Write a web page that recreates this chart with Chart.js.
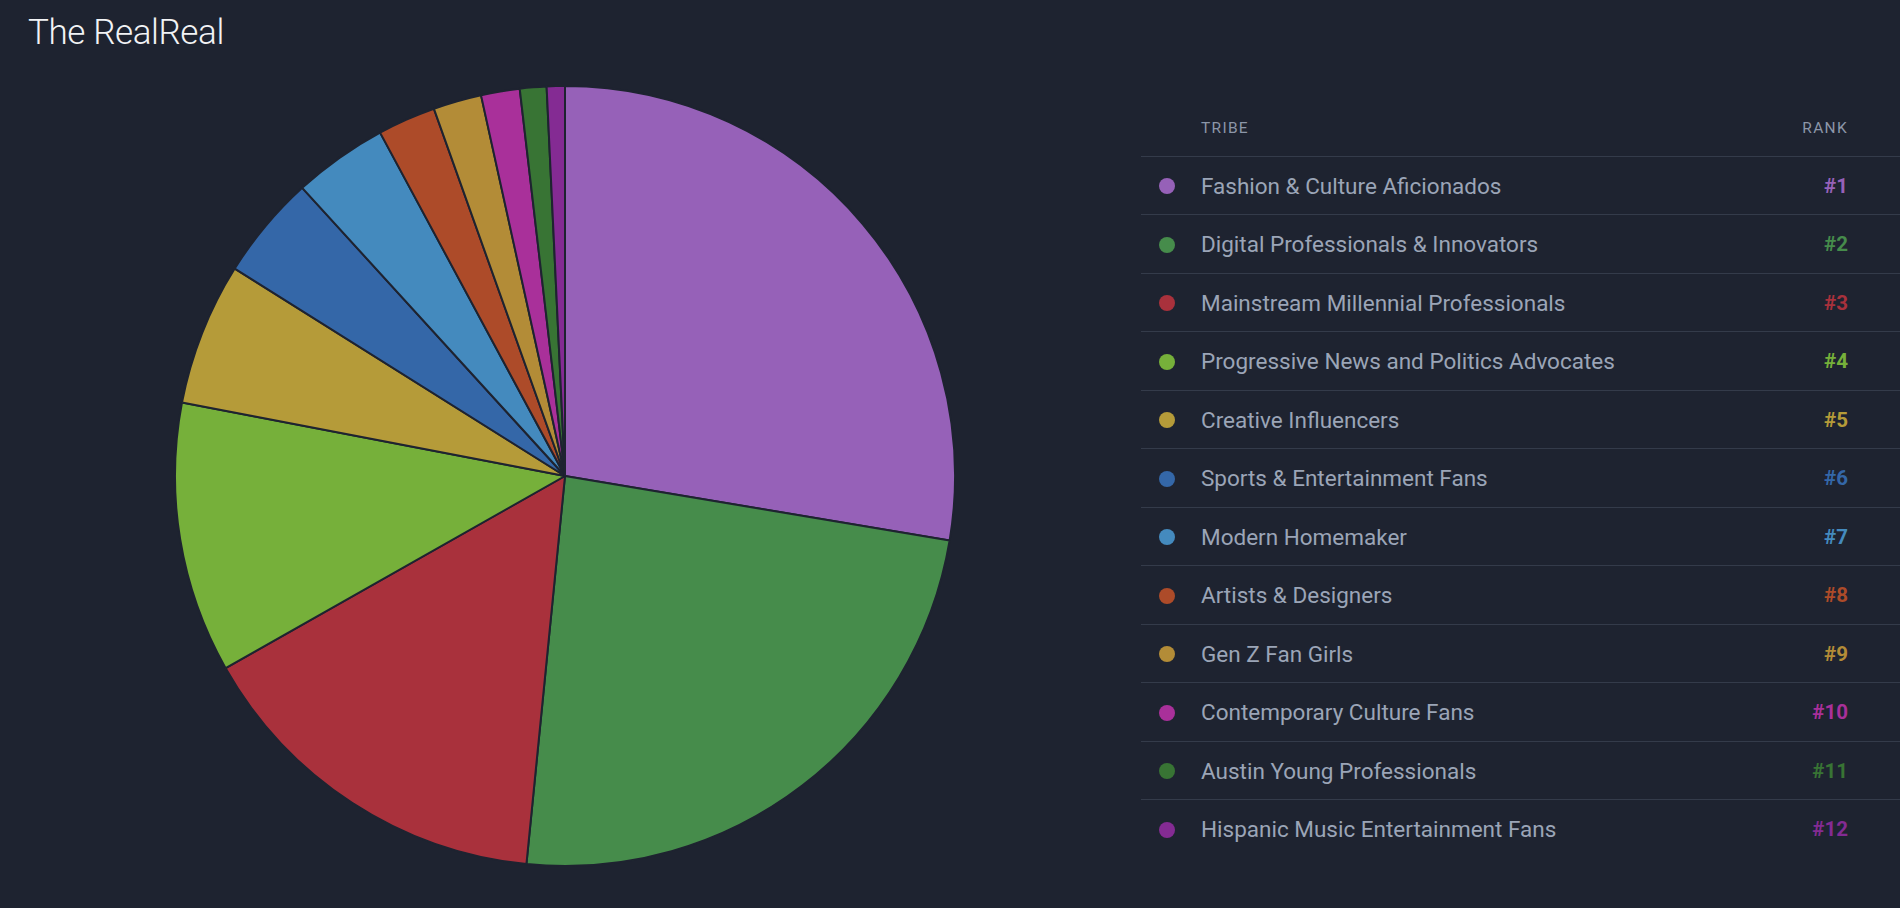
<!DOCTYPE html>
<html>
<head>
<meta charset="utf-8">
<title>The RealReal</title>
<script src="https://cdn.jsdelivr.net/npm/chart.js@4.4.1/dist/chart.umd.min.js"></script>
<style>
  html, body { margin: 0; padding: 0; background: #1e2330; }
  body { width: 1900px; height: 908px; position: relative; overflow: hidden; font-family: Roboto, 'Noto Sans', sans-serif; }
  #title { position: absolute; left: 28px; top: 11px; line-height: 44px; font-size: 35px; font-weight: 300; font-family: Roboto, sans-serif; color: #f2f3f5; letter-spacing: -0.4px; }
  #pieBox { position: absolute; left: 174px; top: 85px; width: 782px; height: 782px; }
  #tribes { position: absolute; left: 1141px; top: 98.5px; width: 759px; }
  .row { position: relative; height: 57.5px; border-bottom: 1px solid #343b4a; }
  .row.last { border-bottom: none; }
  .head { height: 57px; }
  .head span { position: absolute; top: 20px; font-size: 15.5px; letter-spacing: 1.3px; color: #8c96a8; }
  .dot { position: absolute; left: 18px; top: 21.5px; width: 16px; height: 16px; border-radius: 50%; }
  .name { position: absolute; left: 60px; top: 1px; line-height: 57.5px; font-size: 22.5px; color: #9ba5b7; }
  .rank { position: absolute; right: 52px; top: 1px; line-height: 57.5px; font-size: 20.5px; font-weight: 700; }
</style>
</head>
<body>
<div id="title">The RealReal</div>
<div id="pieBox"><canvas id="tribePie"></canvas></div>
<div id="tribes"></div>
<script>
var tribes = [
  'Fashion & Culture Aficionados',
  'Digital Professionals & Innovators',
  'Mainstream Millennial Professionals',
  'Progressive News and Politics Advocates',
  'Creative Influencers',
  'Sports & Entertainment Fans',
  'Modern Homemaker',
  'Artists & Designers',
  'Gen Z Fan Girls',
  'Contemporary Culture Fans',
  'Austin Young Professionals',
  'Hispanic Music Entertainment Fans'
]
var shares = [27.6, 23.9, 15.2, 11.2, 5.9, 4.3, 3.9, 2.4, 2.0, 1.6, 1.1, 0.75]
var ranks = ['#1', '#2', '#3', '#4', '#5', '#6', '#7', '#8', '#9', '#10', '#11', '#12']
var palette = ['#9661b8', '#468c4b', '#a9313c', '#76b03a', '#b59b39', '#3467a8',
  '#448abe', '#ad4b29', '#b38c37', '#a9309a', '#387434', '#842b93']
var bg = '#1e2330'

function buildTable (el) {
  var html = '<div class="row head"><span style="left:60px">TRIBE</span><span style="right:52px">RANK</span></div>'
  for (var i = 0; i < tribes.length; i++) {
    var last = i === tribes.length - 1 ? ' last' : ''
    html += '<div class="row' + last + '">' +
      '<div class="dot" style="background:' + palette[i] + '"></div>' +
      '<div class="name">' + tribes[i].replace(/&/g, '&amp;') + '</div>' +
      '<div class="rank" style="color:' + palette[i] + '">' + ranks[i] + '</div>' +
      '</div>'
  }
  el.innerHTML = html
}

function addPie (canvasId) {
  var ctx = document.getElementById(canvasId).getContext('2d')
  return new Chart(ctx, {
    type: 'pie',
    data: {
      labels: tribes,
      datasets: [{
        data: shares,
        backgroundColor: palette,
        borderColor: bg,
        borderWidth: 2,
        hoverOffset: 0
      }]
    },
    options: {
      responsive: true,
      maintainAspectRatio: false,
      animation: false,
      layout: { padding: 0 },
      plugins: {
        legend: { display: false },
        tooltip: { enabled: true }
      }
    }
  })
}

buildTable(document.getElementById('tribes'))
addPie('tribePie')
</script>
</body>
</html>
